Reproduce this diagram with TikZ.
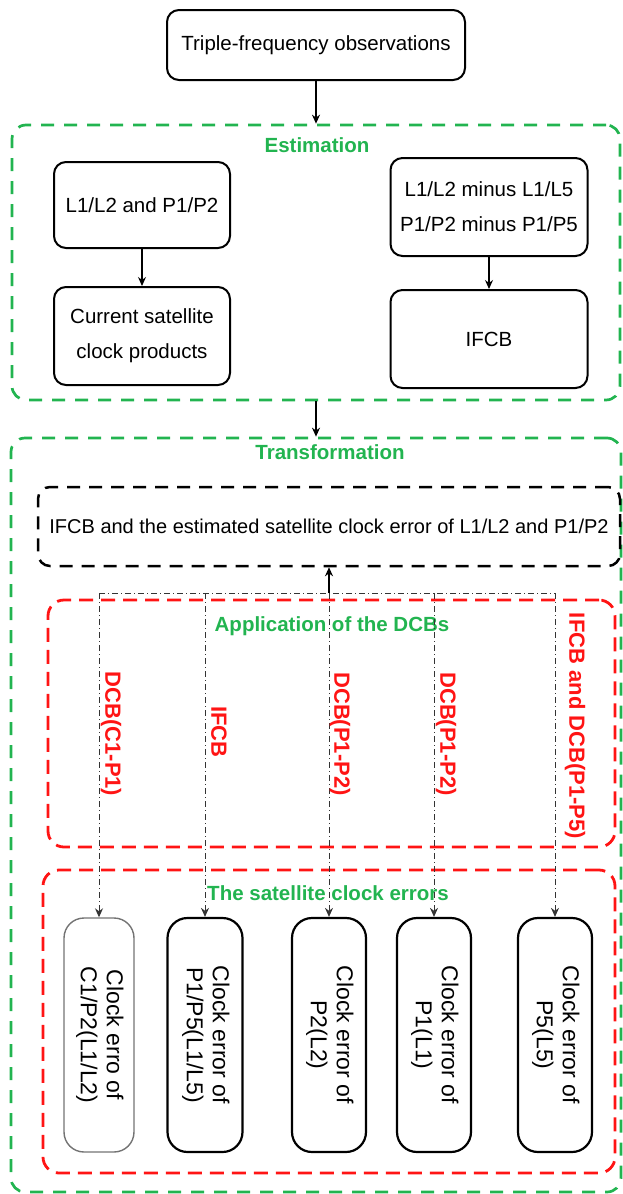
\documentclass[tikz,border=0pt]{standalone}
\usepackage{fontspec}
\setmainfont{Liberation Sans}
\usepackage{graphicx}
\usetikzlibrary{arrows.meta}
\definecolor{grn}{RGB}{34,180,80}
\definecolor{rd}{RGB}{255,20,20}
\tikzset{
  box/.style={draw,line width=2pt,rounded corners=12pt,align=center,inner sep=0pt,font=\fontsize{20.5}{35}\selectfont},
  blkframe/.style={draw,line width=2.5pt,dash pattern=on 13pt off 9pt,rounded corners=12pt,inner sep=0pt,font=\fontsize{20}{24}\selectfont},
  grnframe/.style={draw=grn,line width=2.7pt,dash pattern=on 13pt off 10pt,rounded corners=14pt,inner sep=0pt},
  redframe/.style={draw=rd,line width=2.8pt,dash pattern=on 14pt off 8pt,rounded corners=16pt,inner sep=0pt},
  ttl/.style={text=grn,font=\bfseries\fontsize{20.5}{24}\selectfont},
  dcb/.style={text=rd,rotate=-90,font=\bfseries\fontsize{22}{24}\selectfont},
  clk/.style={draw,line width=2.2pt,rounded corners=20pt,minimum height=234pt,inner sep=0pt},
  light/.style={draw=black!55,line width=1.4pt},
  dark/.style={},
  dd/.style={line width=1pt,black!80,dash pattern=on 6pt off 3pt on 1pt off 3pt},
  arr/.style={-{Stealth[length=9pt,width=8pt]}}
}
\newcommand{\clocktext}[2]{\rotatebox{-90}{\fontsize{23}{26}\selectfont\begin{tabular}{@{}c@{}}#1\\#2\end{tabular}}}

\begin{document}
\begin{tikzpicture}[x=1pt,y=-1pt]
  \useasboundingbox (0,0) rectangle (623,1194);

  % estimation
  \node[box,minimum width=298pt,minimum height=70pt] (obs) at (316,45) {Triple-frequency observations};
  \node[grnframe,minimum width=608pt,minimum height=275pt] (est) at (316,262.5) {};
  \node[ttl] (estlbl) at (317,145) {Estimation};
  \node[box,minimum width=176pt,minimum height=86pt] (l1l2) at (142,205) {L1/L2 and P1/P2};
  \node[box,minimum width=176pt,minimum height=98pt] (cur) at (142,336) {Current satellite\\clock products};
  \node[box,minimum width=197pt,minimum height=98pt] (minus) at (489,207) {L1/L2 minus L1/L5\\P1/P2 minus P1/P5};
  \node[box,minimum width=197pt,minimum height=98pt] (ifcb) at (489,339) {IFCB};
  \draw[arr,line width=2pt] (obs.south) -- (est.north);
  \draw[arr,line width=1.2pt] (l1l2) -- (cur);
  \draw[arr,line width=1.2pt] (minus) -- (ifcb);

  % transformation
  \node[grnframe,minimum width=610pt,minimum height=754pt] (trans) at (316,815) {};
  \draw[arr,line width=2pt] (est.south) -- (trans.north);
  \node[ttl] (translbl) at (330,452) {Transformation};
  \node[blkframe,minimum width=582pt,minimum height=79pt] (clkest) at (329,526.5)
    {IFCB and the estimated satellite clock error of L1/L2 and P1/P2};

  \node[redframe,minimum width=567pt,minimum height=247pt] (app) at (331.5,723.5) {};
  \node[ttl] (applbl) at (332,626) {Application of the DCBs};
  \node[redframe,minimum width=572pt,minimum height=303pt] (sat) at (329,1021.5) {};
  \node[ttl] (satlbl) at (328,893) {The satellite clock errors};

  \foreach \i/\x/\w/\s/\a/\b in {1/99/70/light/{Clock erro of}/{C1/P2(L1/L2)},
                                 2/205/75/dark/{Clock error of}/{P1/P5(L1/L5)},
                                 3/329/74/dark/{Clock error of}/{P2(L2)},
                                 4/434/74/dark/{Clock error of}/{P1(L1)},
                                 5/555/74/dark/{Clock error of}/{P5(L5)}} {
    \node[clk,\s,minimum width=\w pt] (clk\i) at (\x,1035) {\clocktext{\a}{\b}};
    \coordinate (j\i) at (\x,593);
  }

  \draw[dd] (j1) -- (j5);
  \draw[arr,line width=1.4pt] (j3) -- (clkest.south);
  \foreach \i in {1,...,5} {
    \draw[dd,arr] (j\i) -- (clk\i.north);
  }

  \foreach \x/\y/\t in {111/734/{DCB(C1-P1)},219/732/{IFCB},340/734/{DCB(P1-P2)},
                        446/734/{DCB(P1-P2)},575/726/{IFCB and DCB(P1-P5)}} {
    \node[dcb] at (\x,\y) {\t};
  }
\end{tikzpicture}
\end{document}
